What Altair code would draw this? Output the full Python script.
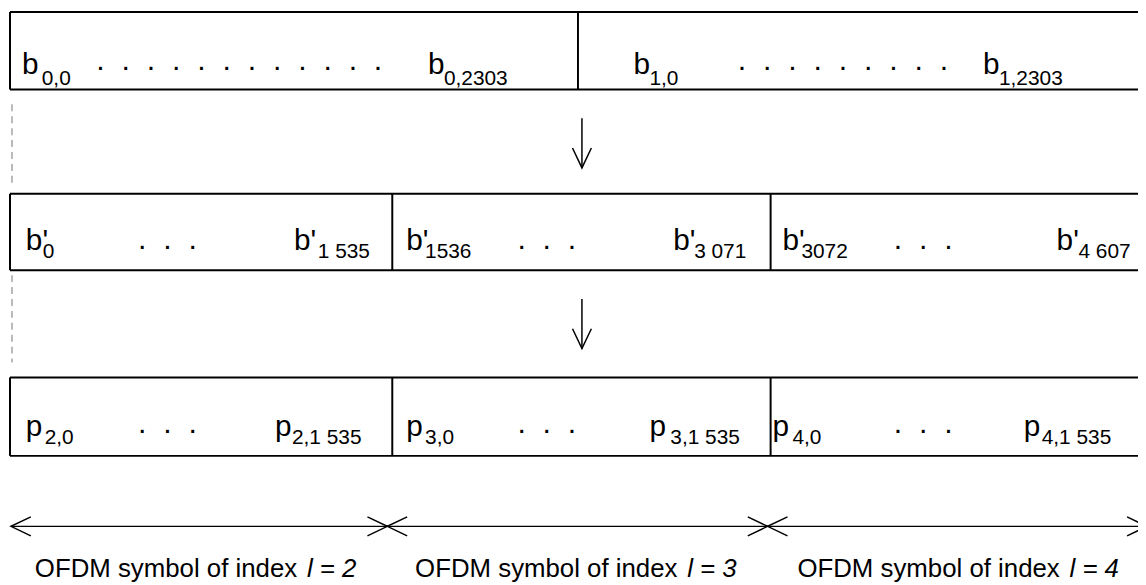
import altair as alt
import pandas as pd

# ---------------- diagram data ----------------
# three rows of boxes (top / bottom edge, page pixels)
row_top = [10, 193, 378]
row_bottom = [88, 270, 457]
box_left = 10
box_right = 1146

# vertical dividers inside the rows
divider_row = [0, 1, 1, 2, 2]
divider_x = [582, 395, 776, 395, 776]

# main symbols and their subscripts
main_text = ["b", "b", "b", "b",
             "b'", "b'", "b'", "b'", "b'", "b'",
             "p", "p", "p", "p", "p", "p"]
main_x = [22, 431, 638, 990,
          26, 296, 409, 678, 788, 1064,
          26, 277, 409, 654, 778, 1031]
main_row = [0, 0, 0, 0, 1, 1, 1, 1, 1, 1, 2, 2, 2, 2, 2, 2]
sub_text = ["0,0", "0,2303", "1,0", "1,2303",
            "0", "1 535", "1536", "3 071", "3072", "4 607",
            "2,0", "2,1 535", "3,0", "3,1 535", "4,0", "4,1 535"]
sub_x = [42, 447, 654, 1006,
         43, 320, 428, 699, 807, 1086,
         45, 294, 428, 675, 798, 1049]
main_baseline = [72, 250, 437]
sub_baseline = [84, 258, 445]

# runs of dots
dot_x = [97, 743, 139, 521, 900, 139, 521, 900]
dot_row = [0, 0, 1, 1, 1, 2, 2, 2]
dot_count = [12, 9, 3, 3, 3, 3, 3, 3]
dot_baseline = [68, 249, 434]

# vertical arrows between rows
varrow_x = [586, 586]
varrow_top = [117, 299]
varrow_tip = [167, 349]

# horizontal double arrows (OFDM symbols)
harrow_y = 528
harrow_start = [11, 390, 773]
harrow_end = [390, 773, 1155]
symbol_index = ["2", "3", "4"]
label_x = [35, 418, 803]       # left start of each label
label_split = [309, 692, 1077]  # where the italic part starts
label_baseline = 579

# dashed guide on the left
dash_x = 12
dash_top = [103, 275]
dash_bottom = [182, 363]

# ---------------- build tables ----------------
rules = []
for t, b in zip(row_top, row_bottom):
    rules.append(dict(x=box_left, x2=box_right, y=t, y2=t))
    rules.append(dict(x=box_left, x2=box_right, y=b, y2=b))
    rules.append(dict(x=box_left, x2=box_left, y=t, y2=b))
for r, xv in zip(divider_row, divider_x):
    rules.append(dict(x=xv, x2=xv, y=row_top[r], y2=row_bottom[r]))
rules_df = pd.DataFrame(rules)

mains_df = pd.DataFrame(dict(text=main_text, x=main_x,
                             y=[main_baseline[r] for r in main_row]))
subs_df = pd.DataFrame(dict(text=sub_text, x=sub_x,
                            y=[sub_baseline[r] for r in main_row]))
dots_df = pd.DataFrame(dict(
    text=["\u00a0\u00a0".join(["."] * n) for n in dot_count],
    x=dot_x, y=[dot_baseline[r] for r in dot_row]))

arrow_lines = []
for xv, t, e in zip(varrow_x, varrow_top, varrow_tip):
    arrow_lines.append(dict(x=xv, x2=xv, y=t, y2=e))
arrow_lines.append(dict(x=harrow_start[0], x2=harrow_end[-1], y=harrow_y, y2=harrow_y))
arrow_df = pd.DataFrame(arrow_lines)

heads = []
for xv, e in zip(varrow_x, varrow_tip):
    heads.append(dict(x=xv, y=e, ang=90))
for s, e in zip(harrow_start, harrow_end):
    heads.append(dict(x=s, y=harrow_y, ang=180))
    heads.append(dict(x=e, y=harrow_y, ang=0))
heads_df = pd.DataFrame(heads)

dash_df = pd.DataFrame(dict(x=[dash_x] * 2, x2=[dash_x] * 2, y=dash_top, y2=dash_bottom))

lab_df = pd.DataFrame(dict(text=["OFDM symbol of index"] * 3, x=label_x,
                           y=[label_baseline] * 3))
ital_df = pd.DataFrame(dict(text=["l = " + s for s in symbol_index], x=label_split,
                            y=[label_baseline] * 3))

# ---------------- scales ----------------
xs = alt.Scale(domain=[8, 1146], range=[0, 1138], nice=False, zero=False)
ys = alt.Scale(domain=[8, 585], range=[0, 577], nice=False, zero=False)
FONT = "Liberation Sans"


def X(f):
    return alt.X(f, type="quantitative", scale=xs, axis=None)


def Y(f):
    return alt.Y(f, type="quantitative", scale=ys, axis=None)


rule_layer = alt.Chart(rules_df).mark_rule(color="black", strokeWidth=2).encode(
    x=X("x"), x2="x2", y=Y("y"), y2="y2")

arrow_layer = alt.Chart(arrow_df).mark_rule(color="black", strokeWidth=1.5).encode(
    x=X("x"), x2="x2", y=Y("y"), y2="y2")

head_layer = alt.Chart(heads_df).mark_point(
    shape="M-1,-0.475L0,0L-1,0.475", filled=False, size=1600,
    strokeWidth=1.5, color="black", opacity=1).encode(
    x=X("x"), y=Y("y"), angle=alt.Angle("ang:Q", scale=None))

dash_layer = alt.Chart(dash_df).mark_rule(color="#8c8c8c", strokeWidth=1.2,
                                          strokeDash=[7, 5]).encode(
    x=X("x"), x2="x2", y=Y("y"), y2="y2")


def text_layer(df, size, style="normal"):
    return alt.Chart(df).mark_text(align="left", baseline="alphabetic", font=FONT,
                                   fontSize=size, fontStyle=style, color="black").encode(
        x=X("x"), y=Y("y"), text="text:N")


chart = alt.layer(
    dash_layer,
    rule_layer,
    arrow_layer,
    head_layer,
    text_layer(mains_df, 30),
    text_layer(subs_df, 21),
    text_layer(dots_df, 30.5),
    text_layer(lab_df, 26),
    text_layer(ital_df, 26, "italic"),
).properties(
    width=1138, height=577, padding=0,
    autosize=alt.AutoSizeParams(type="none"),
).configure_view(stroke=None)

chart.save("out.html", embed_options={"renderer": "svg", "actions": False})
